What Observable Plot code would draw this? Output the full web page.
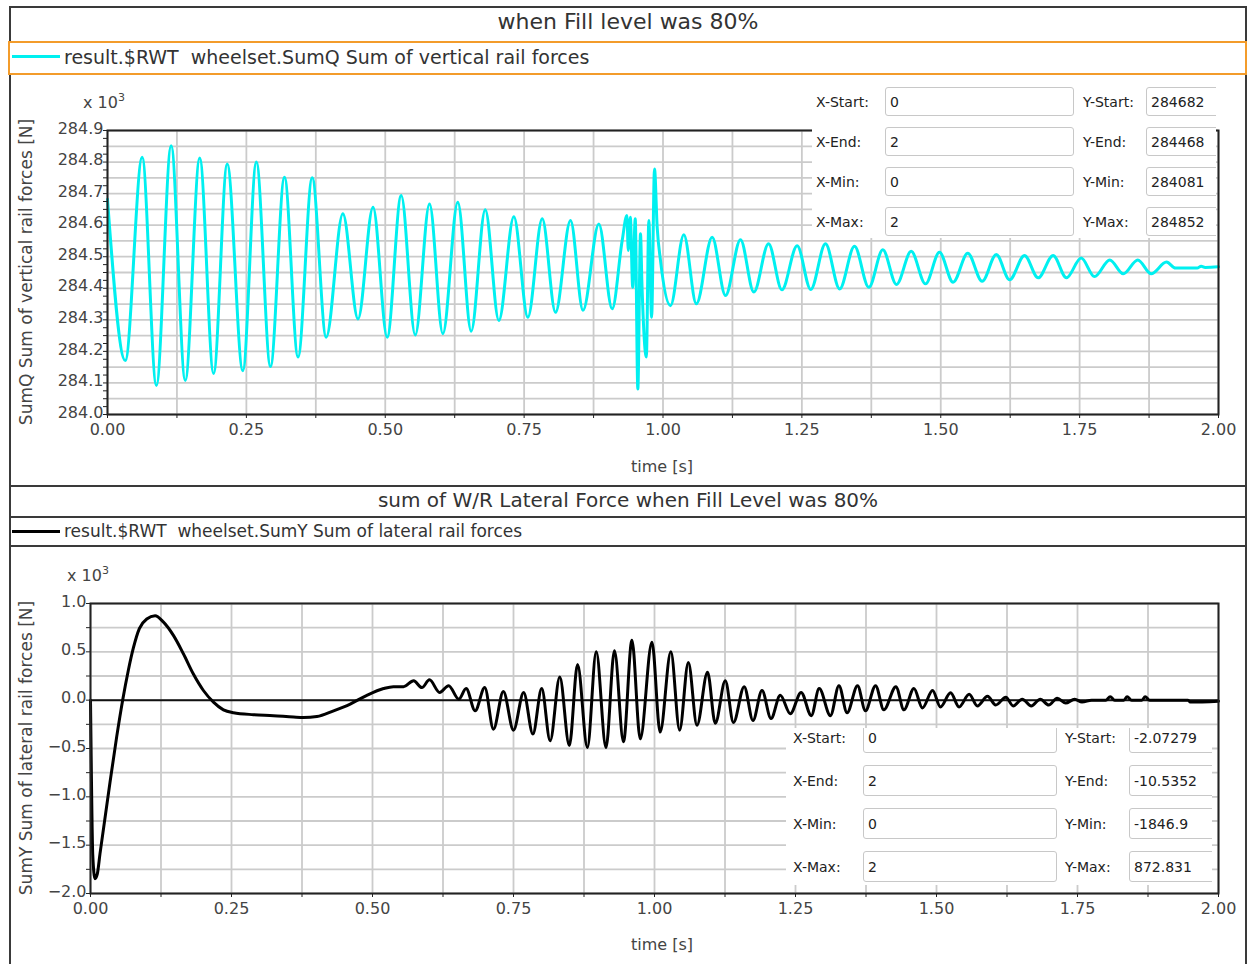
<!DOCTYPE html>
<html>
<head>
<meta charset="utf-8">
<script src="https://cdn.jsdelivr.net/npm/d3@7"></script>
<script src="https://cdn.jsdelivr.net/npm/@observablehq/plot@0.6"></script>
<style>
  body { margin: 0; background: #fff; }
  #page { position: relative; width: 1250px; height: 964px; overflow: hidden; background: #fff; font-family: "DejaVu Sans", sans-serif; }
  .hl { position: absolute; background: #3a3a3a; height: 2px; }
  .vl { position: absolute; background: #3a3a3a; width: 2px; }
  .title { position: absolute; left: 10px; width: 1236px; text-align: center; color: #333; white-space: pre; line-height: 1; }
  .legend { position: absolute; white-space: pre; color: #333; line-height: 1; }
  .swatch { position: absolute; height: 3px; }
  .ylab { position: absolute; transform: translate(-50%, -50%) rotate(-90deg); white-space: pre; color: #444; line-height: 1; }
  .mult { position: absolute; color: #444; font-size: 16px; line-height: 1; white-space: pre; }
  .mult sup { font-size: 11px; vertical-align: 7px; }
  .xlab { position: absolute; transform: translateX(-50%); color: #444; font-size: 16px; line-height: 1; white-space: pre; }
  .info { position: absolute; background: #fff; overflow: hidden; }
  .info .lab { position: absolute; font-size: 14px; color: #222; line-height: 1; white-space: pre; transform: translateY(-50%); }
  .info .box { position: absolute; border: 1px solid #c8c8c8; border-radius: 3px; background: #fff; font-size: 14px; color: #222; padding-left: 4px; box-sizing: border-box; display: flex; align-items: center; white-space: pre; }
  svg.plot { position: absolute; left: 0; }
</style>
</head>
<body>
<div id="page"></div>
<script>
// ---- vertical rail force SumQ (values in 10^3 N) ----
const timeQ = [0, 0.032, 0.0624, 0.088, 0.1146, 0.140, 0.166, 0.191, 0.2155, 0.2436, 0.268, 0.2934, 0.3186, 0.343, 0.3685, 0.3937, 0.4237, 0.451, 0.478, 0.5035, 0.5287, 0.554, 0.5797, 0.6037, 0.6306, 0.6547, 0.680, 0.7045, 0.7315, 0.7567, 0.7826, 0.8065, 0.8335, 0.856, 0.8845, 0.9085,
  0.9265, 0.935, 0.9375, 0.9412, 0.9455, 0.950, 0.9547, 0.9595, 0.962, 0.970, 0.9745, 0.9795, 0.9847, 0.9895, 0.9955,
  1.0135, 1.0375, 1.060, 1.0885, 1.1125, 1.1395, 1.1635, 1.190, 1.214, 1.2415, 1.266, 1.2925, 1.318, 1.3447, 1.3705, 1.3957, 1.4203, 1.4468, 1.4725, 1.4977, 1.5222, 1.5486, 1.5745, 1.600, 1.624, 1.6508, 1.6753, 1.7023, 1.7263, 1.7528, 1.7768, 1.8043, 1.8285, 1.8547, 1.8788, 1.9064, 1.9226, 1.9616, 1.9688, 1.976, 2.0];
const sumQ = [284.682, 284.171, 284.815, 284.092, 284.852, 284.108, 284.813, 284.130, 284.794, 284.139, 284.800, 284.152, 284.752, 284.182, 284.750, 284.245, 284.636, 284.303, 284.657, 284.245, 284.694, 284.252, 284.667, 284.256, 284.673, 284.264, 284.649, 284.298, 284.627, 284.308, 284.620, 284.324, 284.615, 284.330, 284.604, 284.335,
  284.551, 284.631, 284.520, 284.625, 284.403, 284.620, 284.081, 284.573, 284.420, 284.182, 284.615, 284.308, 284.778, 284.594, 284.488,
  284.345, 284.570, 284.351, 284.562, 284.377, 284.554, 284.388, 284.541, 284.395, 284.535, 284.396, 284.541, 284.398, 284.533, 284.403, 284.522, 284.412, 284.517, 284.414, 284.514, 284.419, 284.511, 284.422, 284.507, 284.427, 284.504, 284.433, 284.504, 284.433, 284.496, 284.437, 284.490, 284.446, 284.490, 284.446, 284.483, 284.464, 284.464, 284.470, 284.466, 284.468];

// ---- lateral rail force SumY (values in 10^3 N) ----
const timeY = [0, 0.001, 0.004, 0.008, 0.012, 0.0168, 0.0346, 0.0464, 0.057, 0.0671, 0.076, 0.0866, 0.0997, 0.1145, 0.129, 0.147, 0.1647, 0.1824, 0.2002, 0.218, 0.2357, 0.2535, 0.289, 0.3244, 0.36, 0.3777, 0.4014, 0.431, 0.4605, 0.490, 0.5196, 0.537, 0.555, 0.573, 0.5875, 0.601, 0.619, 0.635, 0.653, 0.666,
  0.682, 0.699, 0.7145, 0.732, 0.750, 0.768, 0.7844, 0.800, 0.815, 0.832, 0.849, 0.8636, 0.881, 0.8967, 0.914, 0.929, 0.945, 0.960, 0.9747, 0.9955, 1.010, 1.029, 1.0445, 1.060, 1.0753, 1.094, 1.1078, 1.1255, 1.140, 1.159, 1.1746, 1.1906, 1.2066, 1.223, 1.2408, 1.260, 1.278, 1.292, 1.312, 1.327, 1.3415, 1.360, 1.374, 1.392, 1.4066, 1.428, 1.4423, 1.460, 1.475, 1.493, 1.507, 1.525, 1.540, 1.558, 1.5725, 1.5905, 1.605, 1.623, 1.636, 1.652, 1.668, 1.684, 1.699, 1.714, 1.729, 1.745, 1.758,
  1.775, 1.800, 1.808, 1.816, 1.832, 1.838, 1.846, 1.864, 1.870, 1.878, 1.946, 1.950, 2.0];
const sumY = [-0.002, -0.5, -1.6, -1.847, -1.80, -1.59, -0.85, -0.38, 0.0, 0.31, 0.54, 0.74, 0.84, 0.873, 0.81, 0.67, 0.48, 0.27, 0.10, -0.02, -0.10, -0.13, -0.15, -0.16, -0.175, -0.18, -0.17, -0.11, -0.04, 0.05, 0.12, 0.14, 0.14, 0.20, 0.13, 0.21, 0.08, 0.15, 0.01, 0.12,
  -0.11, 0.13, -0.30, 0.09, -0.31, 0.08, -0.35, 0.12, -0.42, 0.24, -0.47, 0.37, -0.49, 0.50, -0.49, 0.51, -0.43, 0.62, -0.40, 0.60, -0.33, 0.50, -0.31, 0.39, -0.26, 0.29, -0.24, 0.20, -0.23, 0.14, -0.21, 0.10, -0.19, 0.05, -0.14, 0.08, -0.16, 0.12, -0.16, 0.15, -0.13, 0.15, -0.11, 0.15, -0.10, 0.14, -0.10, 0.12, -0.08, 0.10, -0.07, 0.076, -0.07, 0.06, -0.06, 0.04, -0.05, 0.03, -0.06, 0.01, -0.06, 0.01, -0.05, 0.02, -0.03, 0.01, -0.02,
  0.0, 0.0, 0.035, 0.0, 0.0, 0.035, 0.0, 0.0, 0.035, 0.0, 0.0, -0.02, -0.0105];

// ---- axes ----
const timeTicks = [0, 0.25, 0.5, 0.75, 1.0, 1.25, 1.5, 1.75, 2.0];
const timeGrid = d3.range(0, 2.0001, 0.125);
const qTicks = [284.0, 284.1, 284.2, 284.3, 284.4, 284.5, 284.6, 284.7, 284.8, 284.9];
const qGrid = d3.range(284.0, 284.9001, 0.05);
const qMinor = d3.range(284.0, 284.9001, 0.025);
const yTicks = [-2.0, -1.5, -1.0, -0.5, 0.0, 0.5, 1.0];
const yGrid = d3.range(-2.0, 1.0001, 0.25);

// ---- readout boxes ----
const readLabelsX = ["X-Start:", "X-End:", "X-Min:", "X-Max:"];
const readLabelsY = ["Y-Start:", "Y-End:", "Y-Min:", "Y-Max:"];
const readXQ = ["0", "2", "0", "2"];
const readYQ = ["284682", "284468", "284081", "284852"];
const readXY = ["0", "2", "0", "2"];
const readYY = ["-2.07279", "-10.5352", "-1846.9", "872.831"];

const page = document.getElementById("page");

function el(tag, cls, style, html) {
  const e = document.createElement(tag);
  if (cls) e.className = cls;
  Object.assign(e.style, style || {});
  if (html != null) e.innerHTML = html;
  page.appendChild(e);
  return e;
}

const gridStyle = {stroke: "#cbcbcb", strokeOpacity: 1, strokeWidth: 1.8};
const fmt2 = d3.format(".2f");
const fmt1 = d3.format(".1f");

function forcePlot({t, v, color, yDomain, yLabels, yGridTicks, yMinorTicks, top, height, mt, mb, ml, zero}) {
  const data = t.map((ti, i) => ({t: ti, v: v[i]}));
  const marks = [
    Plot.gridX(timeGrid, gridStyle),
    Plot.gridY(yGridTicks, gridStyle)
  ];
  if (zero) marks.push(Plot.ruleY([0], {stroke: "#111", strokeWidth: 2}));
  marks.push(
    Plot.line(data, {x: "t", y: "v", stroke: color, strokeWidth: 3, curve: "monotone-x"}),
    Plot.frame({stroke: "#222", strokeWidth: 2}),
    Plot.axisX(timeGrid, {tickSize: 4, tickFormat: () => "", label: null, stroke: "#222"}),
    Plot.axisX(timeTicks, {tickSize: 0, tickPadding: 9, tickFormat: fmt2, label: null}),
    Plot.axisY(yMinorTicks, {tickSize: 4, tickFormat: () => "", label: null, stroke: "#222"}),
    Plot.axisY(yLabels, {tickSize: 0, tickPadding: 4, dy: -2, tickFormat: fmt1, label: null})
  );
  const svg = Plot.plot({
    width: 1248, height,
    marginLeft: ml, marginRight: 30, marginTop: mt, marginBottom: mb,
    x: {domain: [0, 2]},
    y: {domain: yDomain},
    style: {fontFamily: "DejaVu Sans", fontSize: "16px", color: "#444", background: "transparent", overflow: "visible"},
    marks
  });
  svg.classList.add("plot");
  svg.style.top = top + "px";
  page.appendChild(svg);
}

function readout({left, top, width, height, rowTops, inputH, xLab, xIn, xInW, yLab, yIn, xs, ys}) {
  const box = el("div", "info", {left: left + "px", top: top + "px", width: width + "px", height: height + "px"});
  rowTops.forEach((rt, i) => {
    const mid = rt + inputH / 2;
    const add = (cls, style, txt) => {
      const e = document.createElement("div");
      e.className = cls; Object.assign(e.style, style); e.textContent = txt; box.appendChild(e);
    };
    add("lab", {left: xLab + "px", top: mid + "px"}, readLabelsX[i]);
    add("box", {left: xIn + "px", top: rt + "px", width: xInW + "px", height: inputH + "px"}, xs[i]);
    add("lab", {left: yLab + "px", top: mid + "px"}, readLabelsY[i]);
    add("box", {left: yIn + "px", top: rt + "px", width: "120px", height: inputH + "px"}, ys[i]);
  });
}

// ---- upper panel: vertical forces ----
forcePlot({t: timeQ, v: sumQ, color: "#00f0f0", yDomain: [284.0, 284.9], yLabels: qTicks, yGridTicks: qGrid, yMinorTicks: qMinor,
  top: 85, height: 400, mt: 45, mb: 71, ml: 107, zero: false});

// ---- lower panel: lateral forces ----
forcePlot({t: timeY, v: sumY, color: "#000", yDomain: [-2.0, 1.0], yLabels: yTicks, yGridTicks: yGrid, yMinorTicks: yGrid,
  top: 550, height: 414, mt: 53, mb: 71, ml: 90, zero: true});

// panel frames
el("div", "hl", {left: "10px", top: "6px", width: "1237px"});
el("div", "vl", {left: "9px", top: "6px", height: "960px"});
el("div", "vl", {left: "1245px", top: "6px", height: "960px"});
el("div", "hl", {left: "10px", top: "485px", width: "1237px"});
el("div", "hl", {left: "10px", top: "516px", width: "1237px"});
el("div", "hl", {left: "10px", top: "545px", width: "1237px"});

// titles and legends
el("div", "title", {top: "11px", fontSize: "22px"}, "when Fill level was 80%");
el("div", "", {position: "absolute", left: "8px", top: "41px", width: "1239px", height: "34px", border: "2.5px solid #f39c2b", boxSizing: "border-box", background: "#fff"});
el("div", "swatch", {left: "12px", top: "55px", width: "48px", background: "#00f0f0"});
el("div", "legend", {left: "64px", top: "48px", fontSize: "19px"}, "result.$RWT  wheelset.SumQ Sum of vertical rail forces");

el("div", "title", {top: "490px", fontSize: "20px"}, "sum of W/R Lateral Force when Fill Level was 80%");
el("div", "swatch", {left: "12px", top: "530px", width: "48px", background: "#000"});
el("div", "legend", {left: "64px", top: "523px", fontSize: "17px"}, "result.$RWT  wheelset.SumY Sum of lateral rail forces");

// axis titles and multipliers
el("div", "ylab", {left: "26px", top: "272px", fontSize: "17px"}, "SumQ Sum of vertical rail forces [N]");
el("div", "ylab", {left: "26px", top: "748px", fontSize: "17px"}, "SumY Sum of lateral rail forces [N]");
el("div", "mult", {left: "83px", top: "92px"}, "x 10<sup>3</sup>");
el("div", "mult", {left: "67px", top: "565px"}, "x 10<sup>3</sup>");
el("div", "xlab", {left: "662px", top: "459px"}, "time [s]");
el("div", "xlab", {left: "662px", top: "937px"}, "time [s]");

// readout boxes
readout({left: 812, top: 85, width: 404, height: 153, rowTops: [2, 42, 82, 122], inputH: 29,
  xLab: 4, xIn: 73, xInW: 189, yLab: 271, yIn: 334, xs: readXQ, ys: readYQ});
readout({left: 786, top: 728, width: 426, height: 157, rowTops: [-6, 37, 80, 123], inputH: 31,
  xLab: 7, xIn: 77, xInW: 194, yLab: 279, yIn: 343, xs: readXY, ys: readYY});
</script>
</body>
</html>
